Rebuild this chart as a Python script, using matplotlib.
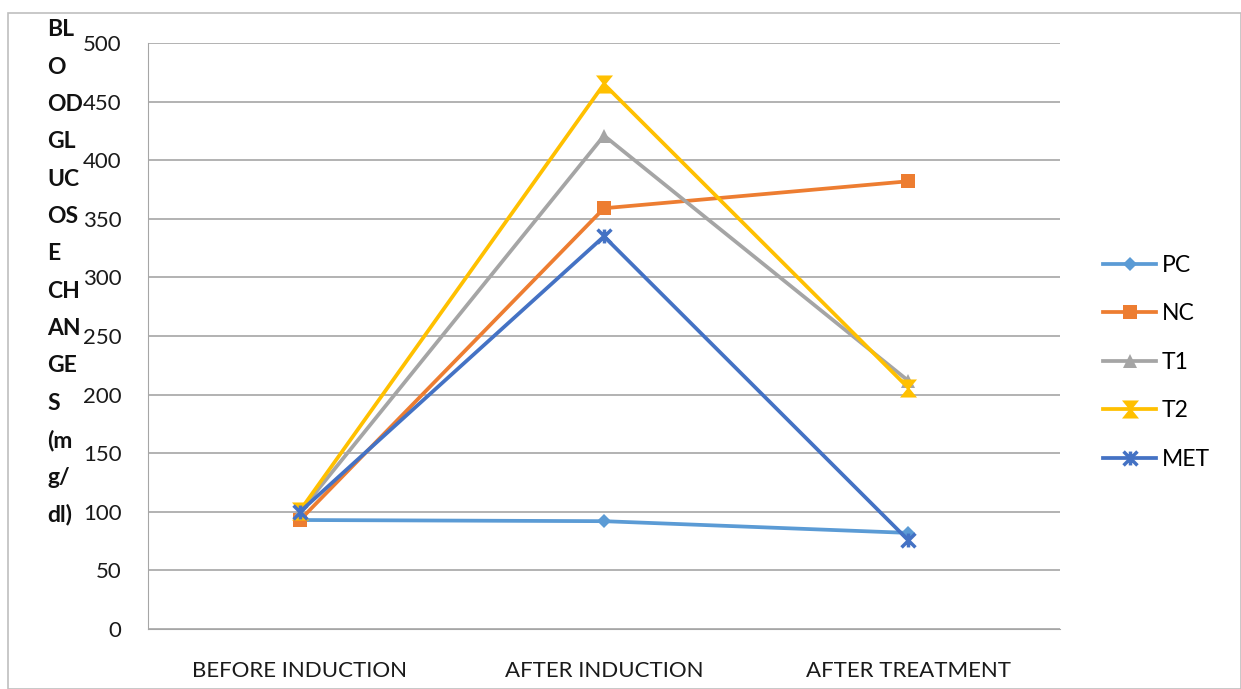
import matplotlib.pyplot as plt
from matplotlib.patches import Rectangle
from matplotlib.path import Path

# ---- data ----
stages = ["BEFORE INDUCTION", "AFTER INDUCTION", "AFTER TREATMENT"]
pc = [93, 92, 82]
nc = [93, 359, 382]
t1 = [100, 421, 212]
t2 = [101, 465, 206]
met = [100, 335, 76]

ylabel_lines = ["BL", "O", "OD", "GL", "UC", "OS", "E", "CH", "AN", "GE", "S", "(m", "g/", "dl)"]

plt.rcParams['font.family'] = ['Lato', 'DejaVu Sans']

W, H = 1241, 689
fig = plt.figure(figsize=(W / 100, H / 100), dpi=100)
ax = fig.add_axes([148 / W, 1 - 629 / H, (1060 - 148) / W, (629 - 43) / H])

# excel style "x with a bar" marker
star_x = Path([(-1, -1), (1, 1), (-1, 1), (1, -1), (0, -1), (0, 1)],
              [Path.MOVETO, Path.LINETO, Path.MOVETO, Path.LINETO, Path.MOVETO, Path.LINETO])

x = list(range(len(stages)))
series = [
    ("PC", pc, "#5b9bd5", "D", 7),
    ("NC", nc, "#ed7d31", "s", 10),
    ("T1", t1, "#a5a5a5", "^", 10),
    ("T2", t2, "#ffc000", "$\u29D7$", 13),
    ("MET", met, "#4472c4", star_x, 10),
]
for name, vals, col, mk, ms in series:
    kw = dict(markeredgewidth=2.5) if mk is star_x else dict(markeredgewidth=0)
    ax.plot(x, vals, color=col, lw=2.7, marker=mk, markersize=ms,
            markerfacecolor=col, markeredgecolor=col, label=name, **kw)

ax.set_xlim(-0.5, 2.5)
ax.set_ylim(0, 500)
ax.set_yticks(range(0, 501, 50))
ax.set_xticks(x)
ax.set_xticklabels(stages)
ax.grid(axis='y', color='#a6a6a6', lw=1.2)
ax.set_axisbelow(True)
for s in ["top", "right"]:
    ax.spines[s].set_visible(False)
ax.spines["left"].set_color('#a6a6a6')
ax.spines["bottom"].set_color('#a6a6a6')
ax.tick_params(axis='both', length=0, labelsize=16, colors='#1a1a1a')
ax.tick_params(axis='y', pad=19)
ax.tick_params(axis='x', pad=23)

# wrapped bold y label, as in the original
for i, t in enumerate(ylabel_lines):
    fig.text(47 / W, 1 - (30 + i * 37.3) / H, t, fontsize=16.5, fontweight='bold',
             ha='left', va='center', color='#111111')

leg = ax.legend(loc='center left', bbox_to_anchor=(1.025, 0.455), frameon=False,
                fontsize=16.5, handlelength=2.3, labelspacing=1.2, handletextpad=0.25)

# outer frame
fig.patches.append(Rectangle((8 / W, 0), (W - 8) / W, 1 - 13 / H, transform=fig.transFigure,
                             fill=False, edgecolor='#bfbfbf', lw=1.2))

fig.savefig("out.png", dpi=100)
